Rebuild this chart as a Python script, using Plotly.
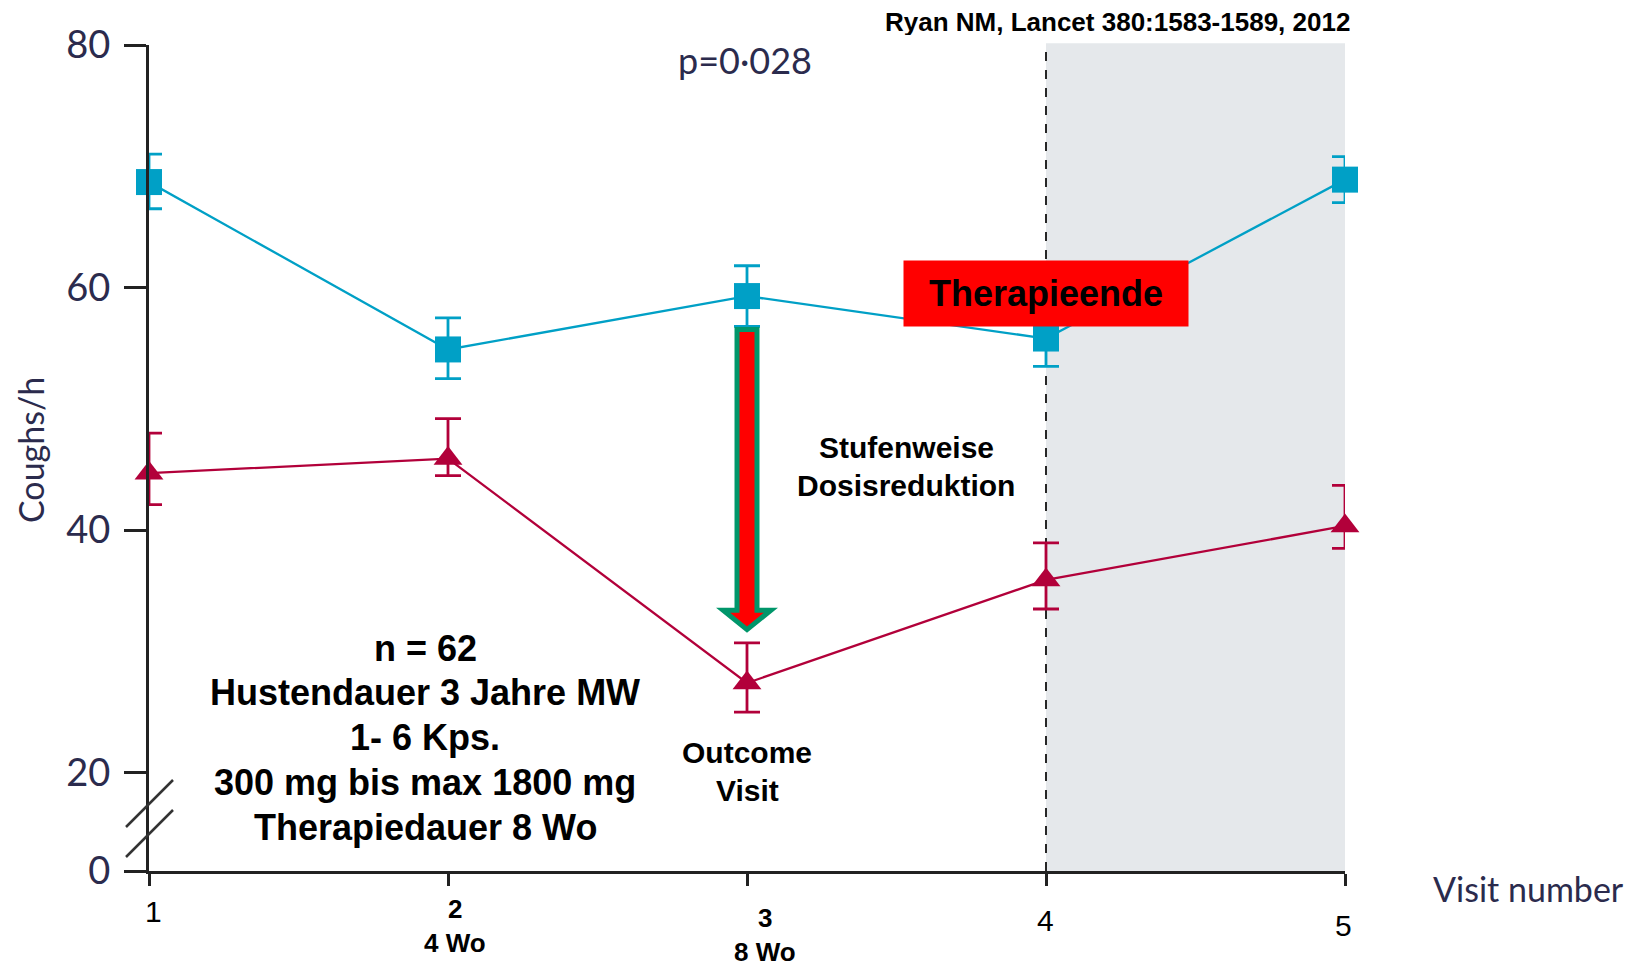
import plotly.graph_objects as go

# ---- data ----
visits = [1, 2, 3, 4, 5]
blue_mean = [68.7, 54.9, 59.3, 55.8, 68.9]
blue_upper = [71.0, 57.5, 61.8, 58.2, 70.8]
blue_lower = [66.5, 52.5, 56.8, 53.5, 67.0]
red_mean = [44.7, 45.9, 27.4, 35.9, 40.35]
red_upper = [48.0, 49.2, 30.7, 38.95, 43.7]
red_lower = [42.1, 44.5, 25.0, 33.5, 38.5]

y_tickvals = [11.9, 20, 40, 60, 80]
y_ticktext = ["0", "20", "40", "60", "80"]
x_labels = ["1", "2<br>4 Wo", "3<br>8 Wo", "4", "5"]

BLUE = "#00A0C6"
RED = "#B2003A"
LANCET_FONT = "Lato"
TXT = "#2b2b4d"

# plot area in page pixels (page has an 8px body margin)
PL, PT, PW, PH = 149, 45, 1196, 826
OFF = 8

def px_x(px):
    return (px - PL) / PW

def px_y(py):
    return (PT + PH - py) / PH

fig = go.Figure()

def err(mean, up, lo):
    return ([u - m for u, m in zip(up, mean)], [m - l for m, l in zip(mean, lo)])

bp, bm = err(blue_mean, blue_upper, blue_lower)
rp, rm = err(red_mean, red_upper, red_lower)

fig.add_trace(go.Scatter(
    x=visits, y=blue_mean, mode="lines+markers",
    line=dict(color=BLUE, width=2.3),
    marker=dict(symbol="square", size=26, color=BLUE),
    error_y=dict(type="data", symmetric=False, array=bp, arrayminus=bm,
                 color=BLUE, thickness=2.8, width=13),
    cliponaxis=False, showlegend=False))

fig.add_trace(go.Scatter(
    x=visits, y=red_mean, mode="lines+markers",
    line=dict(color=RED, width=2.3),
    marker=dict(symbol="triangle-up", size=25, color=RED),
    error_y=dict(type="data", symmetric=False, array=rp, arrayminus=rm,
                 color=RED, thickness=2.8, width=13),
    cliponaxis=False, showlegend=False))

# shaded region after therapy end
fig.add_shape(type="rect", xref="x", yref="paper", x0=4, x1=5, y0=0, y1=1.002,
              fillcolor="#E5E8EB", line=dict(width=0), layer="below")
fig.add_shape(type="line", xref="x", yref="paper", x0=4, x1=4, y0=0, y1=1.002,
              line=dict(color="#111111", width=1.8, dash="dash"), layer="below")

# big arrow at visit 3
ax = 3
sh = 0.0334
hh = 0.080
y_top, y_base, y_tip = 56.55, 33.4, 31.8
path = (f"M {ax-sh},{y_top} L {ax+sh},{y_top} L {ax+sh},{y_base} L {ax+hh},{y_base} "
        f"L {ax},{y_tip} L {ax-hh},{y_base} L {ax-sh},{y_base} Z")
fig.add_shape(type="path", xref="x", yref="y", path=path,
              fillcolor="#FF0000", line=dict(color="#00966A", width=5), layer="above")

# axis break marks (page pixels -> paper)
for (xa, ya), (xb, yb) in [((126, 827), (173, 780)), ((126, 857), (173, 810))]:
    fig.add_shape(type="line", xref="paper", yref="paper",
                  x0=px_x(xa), y0=px_y(ya), x1=px_x(xb), y1=px_y(yb),
                  line=dict(color="#333333", width=2.5), layer="above")

ann = []

def add_text(text, px, py, size, family="Liberation Sans", color="#000", **kw):
    ann.append(dict(text=text, xref="paper", yref="paper", x=px_x(px), y=px_y(py),
                    xanchor="center", yanchor="middle", showarrow=False,
                    font=dict(family=family, size=size, color=color), **kw))

# x tick labels
xlab_pos = [(153, 911), (455, 909), (765, 918), (1045, 920), (1343, 925)]
for lab, (px, py) in zip(x_labels, xlab_pos):
    if "<br>" in lab:
        top, bot = lab.split("<br>")
        add_text(f"<b>{top}</b>", px, py, 26)
        add_text(f"<b>{bot}</b>", px, py + 34, 26)
    else:
        add_text(lab, px, py, 30)

add_text("Visit number", 1529, 888, 34, family=LANCET_FONT, color=TXT)
add_text("Coughs/h", 30, 450, 34, family=LANCET_FONT, color=TXT, textangle=-90)
add_text("p=0·028", 745, 60, 36, family=LANCET_FONT, color=TXT)
add_text("<b>Ryan NM, Lancet 380:1583-1589, 2012</b>", 1117, 22, 26,
         height=26, borderpad=0)
add_text("<b>Therapieende</b>", 1046, 293.5, 36,
         width=284, height=65, bgcolor="#FF0000", borderpad=0)

left_lines = ["n = 62", "Hustendauer 3 Jahre MW", "1- 6 Kps.",
              "300 mg bis max 1800 mg", "Therapiedauer 8 Wo"]
left_y = [648, 692, 737, 782, 827]
for t, py in zip(left_lines, left_y):
    add_text(f"<b>{t}</b>", 425, py, 36)

for t, py in zip(["Stufenweise", "Dosisreduktion"], [447, 485]):
    add_text(f"<b>{t}</b>", 906, py, 30)
for t, py in zip(["Outcome", "Visit"], [752, 790]):
    add_text(f"<b>{t}</b>", 747, py, 30)

W, H = 1642 - OFF, 968 - OFF
fig.update_layout(
    width=W, height=H,
    margin=dict(l=PL - OFF, r=W - (PL - OFF) - PW, t=PT - OFF, b=H - (PT - OFF) - PH, pad=0),
    paper_bgcolor="white", plot_bgcolor="white",
    annotations=ann,
    xaxis=dict(range=[1, 5], tickvals=visits, showticklabels=False,
               ticks="outside", ticklen=12, tickwidth=3, tickcolor="#222",
               showline=True, linecolor="#222", linewidth=3,
               showgrid=False, zeroline=False, fixedrange=True),
    yaxis=dict(range=[11.9, 80], tickvals=y_tickvals, ticktext=y_ticktext,
               ticks="outside", ticklen=22, tickwidth=3, tickcolor="#222",
               ticklabelstandoff=6,
               tickfont=dict(family=LANCET_FONT, size=38, color=TXT),
               showline=True, linecolor="#222", linewidth=3,
               showgrid=False, zeroline=False, fixedrange=True),
)

fig.write_html("out.html")
